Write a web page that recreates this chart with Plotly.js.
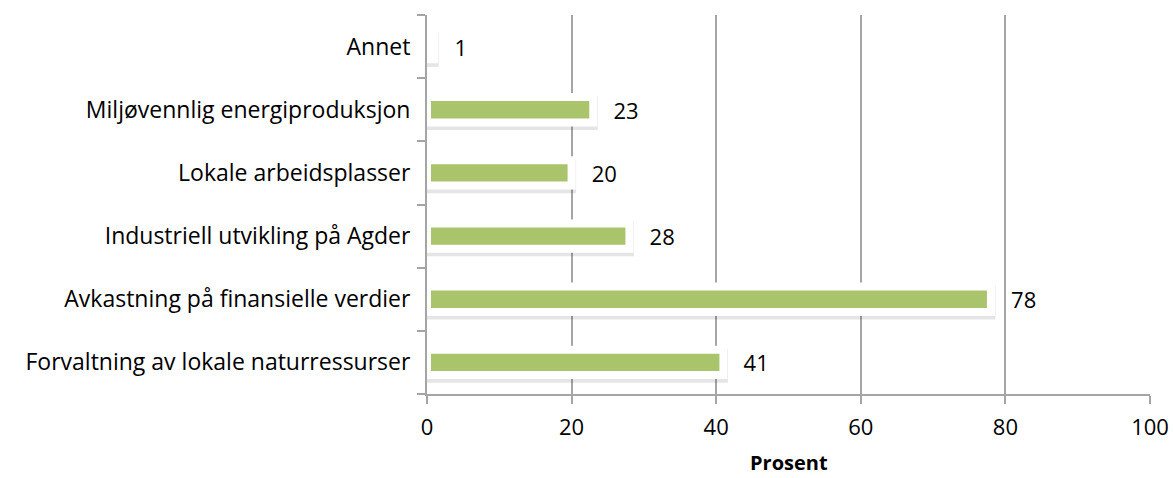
<!DOCTYPE html>
<html>
<head>
<meta charset="utf-8">
<script src="https://cdn.plot.ly/plotly-3.0.1.min.js"></script>
<style>
  html, body { margin: 0; padding: 0; background: #fff; }
  #chart { width: 1173px; height: 478px; }
</style>
</head>
<body>
<div id="chart"></div>
<script>
// categories listed bottom to top
var categories = [
    "Forvaltning av lokale naturressurser",
    "Avkastning på finansielle verdier",
    "Industriell utvikling på Agder",
    "Lokale arbeidsplasser",
    "Miljøvennlig energiproduksjon",
    "Annet"
];
var values = [41, 78, 28, 20, 23, 1];
var xTicks = [0, 20, 40, 60, 80, 100];

var fontFamily = "'Open Sans', sans-serif";

// soft shadow under each bar
var shadow = {
    type: "bar",
    orientation: "h",
    y: categories,
    x: values,
    width: 0.4,
    offset: -0.25,
    marker: {color: "rgba(0,0,0,0.10)", line: {color: "rgba(0,0,0,0.10)", width: 9}},
    hoverinfo: "skip",
    showlegend: false
};

var bars = {
    type: "bar",
    orientation: "h",
    y: categories,
    x: values,
    width: 0.4,
    marker: {color: "#aac46c", line: {color: "#ffffff", width: 8}},
    text: values.map(v => "\u00a0\u00a0\u00a0" + v),
    textposition: "outside",
    constraintext: "none",
    cliponaxis: false,
    textfont: {family: fontFamily, size: 22, color: "#000"},
    showlegend: false
};

var layout = {
    width: 1173,
    height: 478,
    margin: {l: 427, r: 23, t: 15, b: 84},
    paper_bgcolor: "#fff",
    plot_bgcolor: "#fff",
    barmode: "overlay",
    font: {family: fontFamily, size: 22, color: "#000"},
    xaxis: {
        range: [0, 100],
        tickvals: xTicks,
        showgrid: true,
        gridcolor: "#a5a5a5",
        gridwidth: 2,
        zeroline: false,
        showline: true,
        linecolor: "#a5a5a5",
        linewidth: 2,
        ticks: "outside",
        ticklen: 8,
        tickwidth: 2,
        tickcolor: "#a5a5a5",
        ticklabelstandoff: 5
    },
    yaxis: {
        type: "category",
        range: [-0.5, 5.5],
        showgrid: false,
        showline: true,
        linecolor: "#a5a5a5",
        linewidth: 2,
        ticks: "outside",
        tickson: "boundaries",
        ticklen: 8,
        tickwidth: 2,
        tickcolor: "#a5a5a5",
        ticklabelstandoff: 10,
        tickfont: {size: 23}
    },
    // axis title placed as annotation so it sits lower, like the original
    annotations: [{
        text: "<b>Prosent</b>",
        xref: "paper", yref: "paper",
        x: 0.5, y: -0.18,
        xanchor: "center", yanchor: "middle",
        showarrow: false,
        font: {size: 20}
    }]
};

Plotly.newPlot("chart", [shadow, bars], layout, {staticPlot: true});
</script>
</body>
</html>
